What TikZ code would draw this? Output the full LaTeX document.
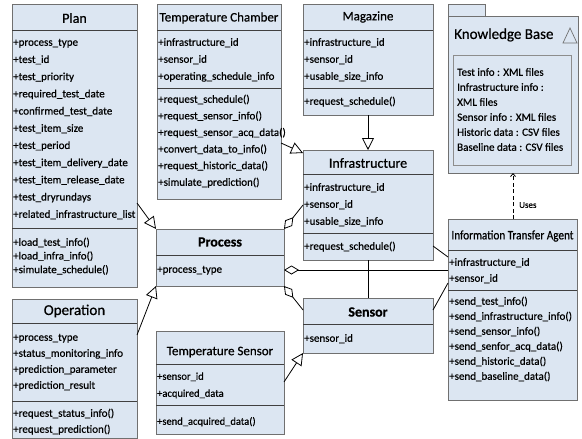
\documentclass[tikz,border=0pt]{standalone}
\usepackage{fontspec}
\usepackage{graphicx}
\setmainfont{Carlito}[FakeBold=0.6]
\usetikzlibrary{arrows.meta}
\definecolor{classfill}{HTML}{DCE6F2}
\definecolor{classline}{HTML}{707070}

% class compartment helpers
\newcommand\classbox[5]{\node[classbody, minimum width=#4pt, minimum height=#5pt] (#1) at (#2,#3) {};}
\newcommand\classtitle[4]{\node[classname, font=#4] (#1-title) at (#1.north |- 0,#2) {#3};}
\newcommand\classrule[2]{\draw[compartment] (#1.west |- 0,#2) -- (#1.east |- 0,#2);}
\newcommand\memberlines[6]{%
  \foreach \entry [count=\k] in {#6}
    \node[member, font=\fontsize{#5}{#5}\selectfont] (#1\k) at (#2,{#3+(\k-1)*#4}) {\entry};}

\begin{document}
\begin{tikzpicture}[x=1pt, y=-1pt,
  classbody/.style={draw=classline, fill=classfill, line width=0.9pt, anchor=north west,
    inner sep=0pt, outer sep=0pt},
  compartment/.style={draw=black!75, line width=0.8pt},
  classname/.style={inner sep=0pt},
  member/.style={anchor=west, inner sep=0pt, text height=7.5pt, text depth=2pt},
  conn/.style={draw=black, line width=0.8pt},
  gen/.style={conn, -{Triangle[open, length=12pt, width=12pt, fill=white]}},
  agg/.style={conn, {Diamond[open, length=15pt, width=9pt, fill=white]}-},
  uses/.style={conn, dash pattern=on 4pt off 2.5pt, -{Straight Barb[length=3pt, width=5pt]}},
]
\useasboundingbox (0,0) rectangle (582,439);

% ---------- Plan ----------
\classbox{plan}{12}{4}{125}{283}
\classtitle{plan}{18}{Plan}{\fontsize{14}{14}\selectfont}
\classrule{plan}{30}
\memberlines{plan-a}{13}{43}{17.2}{11}{+process\_type, +test\_id, +test\_priority,
  +required\_test\_date, +confirmed\_test\_date, +test\_item\_size, +test\_period,
  +test\_item\_delivery\_date, +test\_item\_release\_date, +test\_dryrundays,
  +related\_infrastructure\_list}
\classrule{plan}{228}
\memberlines{plan-m}{13}{243}{13.7}{11}{+load\_test\_info(), +load\_infra\_info(), +simulate\_schedule()}

% ---------- Operation ----------
\classbox{oper}{12}{299}{125}{139}
\classtitle{oper}{311}{Operation}{\fontsize{15}{15}\selectfont}
\classrule{oper}{323}
\memberlines{oper-a}{13}{338}{16}{11}{+process\_type, +status\_monitoring\_info,
  +prediction\_parameter, +prediction\_result}
\classrule{oper}{401}
\memberlines{oper-m}{13}{414}{16}{11}{+request\_status\_info(), +request\_prediction()}

% ---------- Temperature Chamber ----------
\classbox{tc}{157}{4}{124}{195}
\classtitle{tc}{18}{Temperature Chamber}{\fontsize{13}{13}\selectfont}
\classrule{tc}{30}
\memberlines{tc-a}{158}{43}{17}{11}{+infrastructure\_id, +sensor\_id, +operating\_schedule\_info}
\classrule{tc}{88}
\memberlines{tc-m}{158}{100}{16.6}{11}{+request\_schedule(), +request\_sensor\_info(),
  +request\_sensor\_acq\_data(), +convert\_data\_to\_info(), +request\_historic\_data(),
  +simulate\_prediction()}

% ---------- Magazine ----------
\classbox{mag}{303}{4}{130}{111}
\classtitle{mag}{17}{Magazine}{\fontsize{13}{13}\selectfont}
\classrule{mag}{30}
\memberlines{mag-a}{304}{43}{17}{11}{+infrastructure\_id, +sensor\_id, +usable\_size\_info}
\classrule{mag}{88}
\memberlines{mag-m}{304}{102}{17}{11}{+request\_schedule()}

% ---------- Infrastructure ----------
\classbox{infra}{303}{150}{130}{110}
\classtitle{infra}{163}{Infrastructure}{\fontsize{14}{14}\selectfont}
\classrule{infra}{174}
\memberlines{infra-a}{304}{188}{17}{11}{+infrastructure\_id, +sensor\_id, +usable\_size\_info}
\classrule{infra}{233}
\memberlines{infra-m}{304}{247}{17}{11}{+request\_schedule()}

% ---------- Process ----------
\classbox{process}{156}{229}{128}{57}
\classtitle{process}{242}{Process}{\bfseries\fontsize{14}{14}\selectfont}
\classrule{process}{255}
\memberlines{process-a}{157}{270}{17}{11}{+process\_type}

% ---------- Sensor ----------
\classbox{sensor}{303}{298}{130}{55}
\classtitle{sensor}{312}{Sensor}{\bfseries\fontsize{14}{14}\selectfont}
\classrule{sensor}{324}
\memberlines{sensor-a}{304}{339}{17}{11}{+sensor\_id}

% ---------- Temperature Sensor ----------
\classbox{tsens}{156}{331}{128}{103}
\classtitle{tsens}{352}{Temperature Sensor}{\fontsize{13}{13}\selectfont}
\classrule{tsens}{364}
\memberlines{tsens-a}{157}{377}{17}{10.5}{+sensor\_id, +acquired\_data}
\classrule{tsens}{405}
\memberlines{tsens-m}{157}{422}{16}{10.5}{+send\_acquired\_data()}

% ---------- Information Transfer Agent ----------
\classbox{ita}{448}{219}{129}{181}
\classtitle{ita}{236}{\scalebox{0.86}[1]{Information Transfer Agent}}{\fontsize{13}{13}\selectfont}
\classrule{ita}{250}
\memberlines{ita-a}{449}{263}{16}{11}{+infrastructure\_id, +sensor\_id}
\classrule{ita}{290}
\memberlines{ita-m}{449}{302}{15}{11}{+send\_test\_info(), +send\_infrastructure\_info(),
  +send\_sensor\_info(), +send\_senfor\_acq\_data(), +send\_historic\_data(),
  +send\_baseline\_data()}

% ---------- Knowledge Base package ----------
\node[classbody, minimum width=37pt, minimum height=12pt] (kbtab) at (448,4) {};
\node[classbody, minimum width=130pt, minimum height=157pt] (kb) at (448,16) {};
\node[classname, anchor=west, font=\fontsize{15}{15}\selectfont] (kb-title) at (454,35) {Knowledge Base};
\draw[classline, line width=0.7pt] (563,43) -- (577,43) -- (570,28) -- cycle;
\node[classbody, draw=classline!80, line width=0.7pt, minimum width=118pt, minimum height=110pt] (kbin) at (453,55) {};
\memberlines{kb-l}{457}{73}{15}{11}{Test info : XML files, Infrastructure info :, XML files,
  Sensor info : XML files, Historic data : CSV files, Baseline data : CSV files}

% ---------- relationships ----------
\draw[gen] (plan.east |- 0,203) -- (process.north west);
\draw[gen] (oper.east |- 0,335) -- (process.south west);
\draw[gen] (tc.east |- 0,143) -- (infra.west |- 0,153);
\draw[gen] (mag.south) -- (infra.north);
\draw[gen] (tsens.east |- 0,382) -- (sensor.south west);

\draw[agg] (process.north east) -- (infra.west |- 0,205);
\draw[agg] (process.east |- 0,270) -- (ita.west |- 0,270);
\draw[agg] (process.south east) -- (sensor.west |- 0,310);

\draw[conn] (infra.south) -- (sensor.north);
\draw[conn] (infra.east |- 0,246) -- (ita.west |- 0,257);
\draw[conn] (sensor.east |- 0,310) -- (ita.west |- 0,283);

\draw[uses] (ita.north -| 513,0) -- (kb.south -| 513,0);
\node[anchor=west, inner sep=0pt, font=\fontsize{9}{9}\selectfont] (uses-label) at (519,205) {Uses};
\end{tikzpicture}
\end{document}
